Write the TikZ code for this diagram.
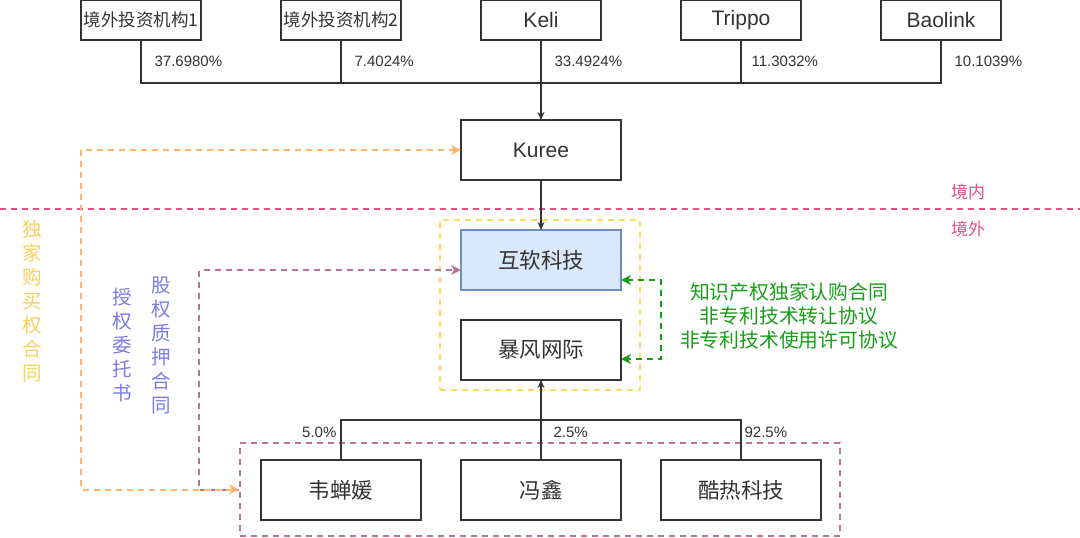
\documentclass[tikz,border=0pt]{standalone}
\usepackage{fontspec}
\setmainfont{Liberation Sans}
\newfontfamily\cjk{Noto Sans CJK SC}
\usetikzlibrary{arrows.meta}
\usetikzlibrary{positioning}
\definecolor{ink}{HTML}{333333}
\definecolor{border}{HTML}{EA4F7F}
\definecolor{buyopt}{HTML}{FFB570}
\definecolor{vie}{HTML}{FFD966}
\definecolor{vietext}{HTML}{F9CF5E}
\definecolor{pledge}{HTML}{B5739D}
\definecolor{pledgetext}{HTML}{7B7BE6}
\definecolor{ipgreen}{HTML}{169F16}
\definecolor{hufill}{HTML}{DAE8FC}
\definecolor{hudraw}{HTML}{6C8EBF}

\begin{document}
\begin{tikzpicture}[
  x=1pt, y=-1pt,
  node distance=80pt and 80pt,
  topbox/.style={rectangle, draw=ink, line width=1.2pt, outer sep=0pt,
    minimum width=120pt, minimum height=40pt, inner sep=0pt,
    text=ink, font=\fontsize{21}{25}\selectfont},
  cjktop/.style={topbox, font=\cjk\fontsize{17.5}{21}\selectfont},
  entity/.style={rectangle, draw=ink, line width=1.2pt, outer sep=0pt,
    minimum width=160pt, minimum height=60pt, inner sep=0pt,
    text=ink, font=\cjk\fontsize{21.5}{25}\selectfont},
  pct/.style={inner sep=0pt, text=ink, font=\fontsize{15}{18}\selectfont},
  link/.style={draw=ink, line width=1.2pt},
  arrow/.style={link, -{Stealth[length=8pt, width=7pt]}},
  dashline/.style={line width=2pt, dash pattern=on 6pt off 5pt},
  ygroup/.style={rectangle, draw=vie, dashline, minimum width=200pt, minimum height=170pt, inner sep=0pt},
  pgroup/.style={rectangle, draw=pledge, dashline, minimum width=600pt, minimum height=93pt, inner sep=0pt},
  buyarrow/.style={draw=buyopt, dashline, {Stealth[length=10pt, width=10pt, inset=3pt]}-{Stealth[length=10pt, width=10pt, inset=3pt]}},
  pledgearrow/.style={draw=pledge, dashline, -{Stealth[length=10pt, width=10pt, inset=3pt]}},
  iparrow/.style={draw=ipgreen, dashline, {Stealth[length=10pt, width=10pt, inset=3pt]}-{Stealth[length=10pt, width=10pt, inset=3pt]}},
  vtext/.style={align=center, inner sep=0pt, font=\cjk\fontsize{19.5}{24}\selectfont},
]
\useasboundingbox (0,0) rectangle (1080,538);

% === Domestic / overseas boundary ===
\draw[draw=border, dashline] (0,209) -- (1080,209);
\node[text=border, font=\cjk\fontsize{17}{20}\selectfont] (inside) at (968,192) {境内};
\node[text=border, font=\cjk\fontsize{17}{20}\selectfont] (outside) at (968,229) {境外};

% === Groups ===
\node[ygroup] (core) at (540,305) {};
\node[pgroup] (holders) at (540,489.5) {};

% === Top row: shareholders of Kuree ===
\node[cjktop] (inv1) at (141,20) {境外投资机构1};
\node[cjktop, right=of inv1] (inv2) {境外投资机构2};
\node[topbox, right=of inv2] (keli) {Keli};
\node[topbox, right=of keli] (trippo) {Trippo};
\node[topbox, right=of trippo] (baolink) {Baolink};
\node[topbox, below=80pt of keli, minimum width=160pt, minimum height=60pt] (kuree) {Kuree};
\coordinate (topbus) at (keli.south |- 0,83);
\draw[link] (inv1.south) -- node[pct, right=13pt] (s1) {37.6980\%} (inv1.south |- topbus) -- (topbus);
\draw[link] (inv2.south) -- node[pct, right=13pt] (s2) {7.4024\%} (inv2.south |- topbus);
\draw[link] (keli.south) -- node[pct, right=13pt] (s3) {33.4924\%} (topbus);
\draw[link] (trippo.south) -- node[pct, right=10pt] (s4) {11.3032\%} (trippo.south |- topbus);
\draw[link] (baolink.south) -- node[pct, right=13pt] (s5) {10.1039\%} (baolink.south |- topbus) -- (topbus);
\draw[arrow] (topbus) -- (kuree);

% === WFOE and operating company ===
\node[entity, fill=hufill, draw=hudraw, below=50pt of kuree] (huruan) {互软科技};
\node[entity, below=30pt of huruan] (baofeng) {暴风网际};
\draw[arrow] (kuree) -- (huruan);

% === Bottom row: shareholders of Baofeng ===
\node[entity, below=80pt of baofeng] (fengxin) {冯鑫};
\node[entity, left=40pt of fengxin] (wei) {韦蝉媛};
\node[entity, right=40pt of fengxin] (kure) {酷热科技};
\coordinate (botbus) at (fengxin.north |- 0,420);
\draw[link] (wei.north) -- node[pct, left=4pt, pos=0.68] (s6) {5.0\%} (wei.north |- botbus) -- (botbus);
\draw[link] (fengxin.north) -- node[pct, right=12pt, pos=0.68] (s7) {2.5\%} (botbus);
\draw[link] (kure.north) -- node[pct, right=3pt, pos=0.68] (s8) {92.5\%} (kure.north |- botbus) -- (botbus);
\draw[arrow] (botbus) -- (baofeng);

% === Control agreements ===
\draw[pledgearrow] (holders.west) -- ++(-40,0) |- ([yshift=-10pt]huruan.west);
\draw[buyarrow] (kuree.west) -- ++(-380,0) |- (holders.west);
\draw[iparrow] ([yshift=-20pt]huruan.east) -- ++(40,0) |- ([yshift=-9pt]baofeng.east);
\node[vtext, text=vietext] (buytext) at (32,301.5) {独\\家\\购\\买\\权\\合\\同};
\node[vtext, text=pledgetext] (proxytext) at (122,345) {授\\权\\委\\托\\书};
\node[vtext, text=pledgetext] (pledgetext) at (161,345.5) {股\\权\\质\\押\\合\\同};
\node[align=center, text=ipgreen, font=\cjk\fontsize{19.8}{24}\selectfont] (iptext) at (789,316)
  {知识产权独家认购合同\\非专利技术转让协议\\非专利技术使用许可协议};
\end{tikzpicture}
\end{document}
